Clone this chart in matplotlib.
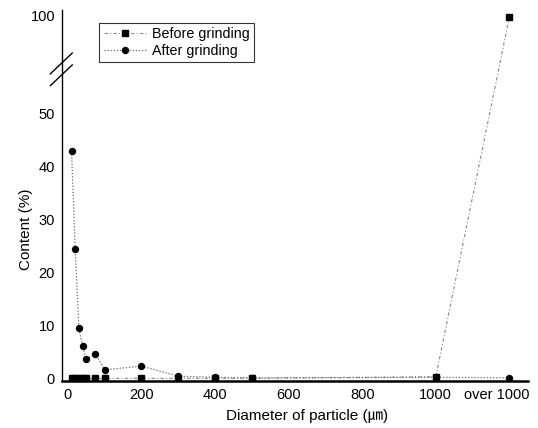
import numpy as np
import matplotlib
matplotlib.use("Agg")
import matplotlib.pyplot as plt
import matplotlib.transforms as mtransforms

plt.rcParams['font.family'] = ['Liberation Sans', 'Noto Sans CJK KR', 'DejaVu Sans']

# Data (x = particle diameter, 1200 stands for "over 1000")
x_pos = [10, 20, 30, 40, 50, 75, 100, 200, 300, 400, 500, 1000, 1200]
before = [0.1, 0.1, 0.1, 0.1, 0.1, 0.1, 0.1, 0.1, 0.1, 0.1, 0.1, 0.4, 99.0]
after = [42.9, 24.4, 9.5, 6.2, 3.7, 4.7, 1.7, 2.4, 0.5, 0.3, 0.2, 0.3, 0.2]
xticks = [0, 200, 400, 600, 800, 1000, 1200]
xticklabels = ['0', '200', '400', '600', '800', '1000', 'over 1000']
yticks = [0, 10, 20, 30, 40, 50, 100]

BRK = 55.0
SQZ = 0.30


def fwd(y):
    y = np.asarray(y, dtype=float)
    return np.where(y <= BRK, y, BRK + (y - BRK) * SQZ)


def inv(y):
    y = np.asarray(y, dtype=float)
    return np.where(y <= BRK, y, BRK + (y - BRK) / SQZ)


fig = plt.figure(figsize=(5.38, 4.28), dpi=100)
ax = fig.add_axes([0.1152, 0.1098, 0.8658, 0.8668])
ax.set_yscale('function', functions=(fwd, inv))

ax.plot(x_pos, before, linestyle=(0, (3, 2, 1, 2)), color='#888888', lw=0.8,
        marker='s', markersize=3.8, markerfacecolor='black', markeredgecolor='black',
        label='Before grinding', zorder=3)
ax.plot(x_pos, after, linestyle=(0, (1, 1.5)), color='#666666', lw=0.9,
        marker='o', markersize=4.3, markerfacecolor='black', markeredgecolor='black',
        label='After grinding', zorder=3)

ax.set_xlim(-16, 1250)
ax.set_ylim(-0.4, inv(69.5))
ax.set_xticks(xticks)
ax.set_xticklabels(xticklabels)
ax.set_yticks(yticks)
ax.set_yticklabels([str(v) for v in yticks])
ax.minorticks_off()

for s in ['top', 'right']:
    ax.spines[s].set_visible(False)
ax.spines['left'].set_linewidth(1.0)
ax.spines['bottom'].set_linewidth(1.8)
ax.tick_params(axis='both', direction='in', length=0, labelsize=10.5, pad=5)

# shift the "over 1000" label a little to the left, as in the reference
lbl = ax.get_xticklabels()[-1]
lbl.set_transform(lbl.get_transform() + mtransforms.ScaledTranslation(-13 / 100, 0, fig.dpi_scale_trans))

ax.set_xlabel('Diameter of particle (㎛)', fontsize=11)
ax.xaxis.set_label_coords(0.526, -0.075)
ax.set_ylabel('Content (%)', fontsize=11)
ax.yaxis.set_label_coords(-0.062, 0.41)

# break marks on y axis
for dy in (-0.016, 0.016):
    ax.plot([-0.025, 0.022], [0.84 + dy - 0.028, 0.84 + dy + 0.028], transform=ax.transAxes,
            color='black', lw=1.0, clip_on=False)

leg = ax.legend(loc='upper left', bbox_to_anchor=(0.08, 0.965), frameon=True,
                fancybox=False, edgecolor='black', fontsize=10.3, handlelength=3.0,
                borderpad=0.3, labelspacing=0.2, handletextpad=0.4, borderaxespad=0)
leg.get_frame().set_linewidth(0.8)

fig.savefig('out.png', dpi=100)
